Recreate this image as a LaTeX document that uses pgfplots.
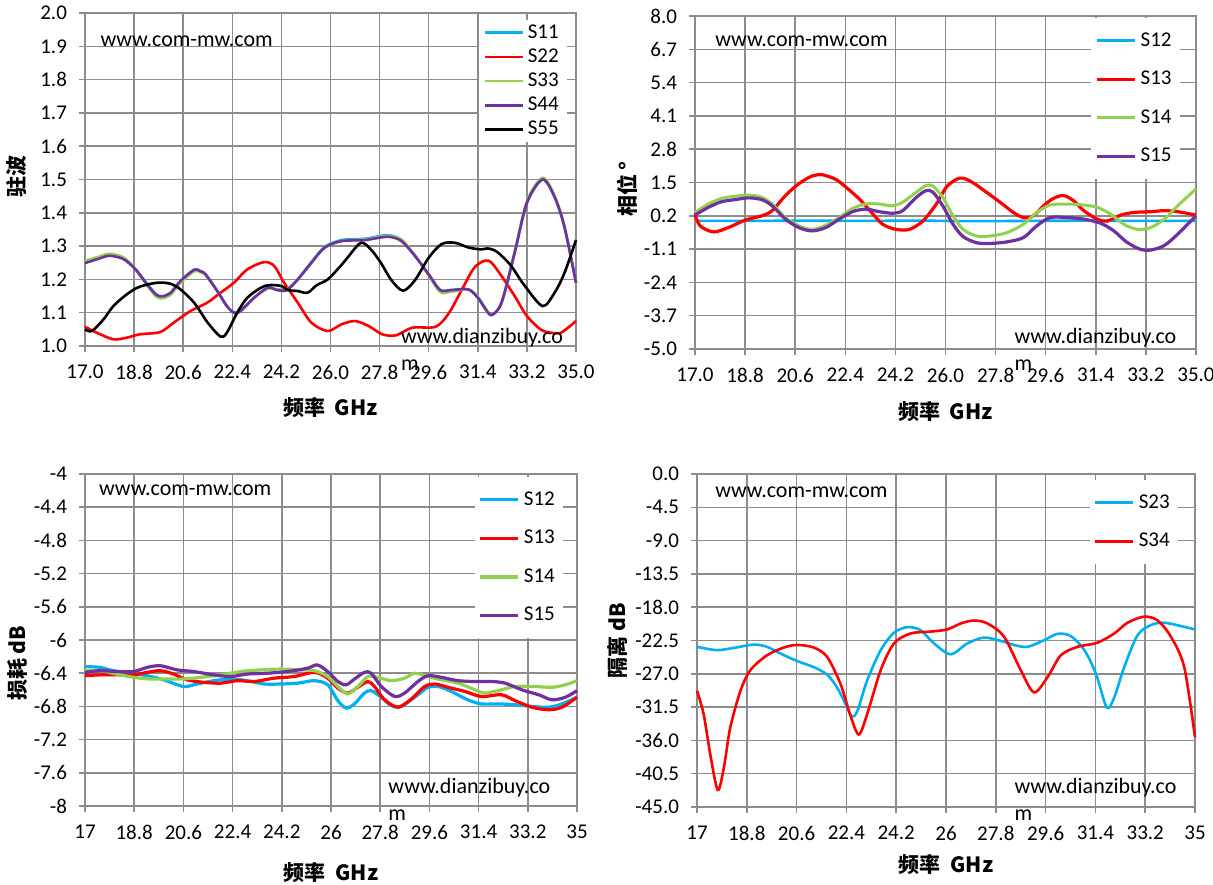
\documentclass[border=0pt]{standalone}
\usepackage{fontspec}
\setmainfont{Carlito}
\newfontfamily\cjk{Noto Sans CJK SC}
\usepackage{pgfplots}
\pgfplotsset{compat=1.18}
\definecolor{cS}{RGB}{0,176,240}
\definecolor{rS}{RGB}{255,0,0}
\definecolor{gS}{RGB}{146,208,80}
\definecolor{pS}{RGB}{112,48,160}
\definecolor{gridc}{RGB}{140,140,140}
\tikzset{wm/.style={anchor=west, font=\fontsize{11}{13}\selectfont, inner sep=0pt}}
\pgfplotsset{
  myaxis/.style={
    scale only axis, anchor=south west,
    xmin=17, xmax=35,
    xtick={17,18.8,20.6,22.4,24.2,26,27.8,29.6,31.4,33.2,35},
    grid=major, major grid style={gridc, line width=0.75pt},
    axis line style={gridc, line width=0.75pt},
    tick style={gridc, line width=0.75pt},
    tick align=outside, major tick length=3pt,
    xtick pos=bottom, ytick pos=left,
    ticklabel style={font=\fontsize{10.5}{12}\selectfont, text=black},
    xticklabel style={yshift=-3pt},
    yticklabel style={xshift=-2.5pt},
    clip=false, no markers,
    every axis plot/.append style={line width=1.3pt, smooth},
    legend cell align=left,
    legend image code/.code={\draw[##1] (0pt,0pt) -- (19pt,0pt);},
    legend style={draw=none, fill=white, anchor=north east, inner xsep=2pt, inner ysep=1pt,
      font=\fontsize{10.5}{12}\selectfont},
    xlabel style={anchor=center, font=\cjk\bfseries\fontsize{10.5}{12}\selectfont},
    ylabel style={anchor=center, font=\cjk\bfseries\fontsize{10.5}{12}\selectfont},
  },
}
\begin{document}
\begin{tikzpicture}
\path[use as bounding box] (0,0) rectangle (606.5pt,442pt);
% ---------------- Panel 1: VSWR
\begin{axis}[myaxis, at={(42.5pt,269pt)}, width=245.5pt, height=166.5pt,
  ymin=1, ymax=2, ytick={1,1.1,...,2.01},
  yticklabels={1.0,1.1,1.2,1.3,1.4,1.5,1.6,1.7,1.8,1.9,2.0},
  xticklabels={17.0,18.8,20.6,22.4,24.2,26.0,27.8,29.6,31.4,33.2,35.0},
  xlabel={频率\ \ GHz}, xlabel style={at={(axis description cs:0.5,-0.186)}},
  ylabel={驻波}, ylabel style={at={(axis description cs:-0.1385,0.51)}},
  legend style={at={(0.982,0.979)}, row sep=-0.2pt, inner ysep=0pt}]
\addplot[cS] coordinates {(17.0,1.25)(17.5,1.263)(17.9,1.272)(18.41,1.262)(18.84,1.232)(19.27,1.187)(19.6,1.155)(19.82,1.149)(20.13,1.159)(20.5,1.195)(21.0,1.229)(21.22,1.225)(21.42,1.215)(21.85,1.165)(22.2,1.12)(22.46,1.101)(22.7,1.105)(23.2,1.145)(23.7,1.175)(24.05,1.168)(24.4,1.168)(24.8,1.2)(25.3,1.252)(25.78,1.297)(26.4,1.318)(27.25,1.322)(28.1,1.333)(28.6,1.318)(29.1,1.27)(29.6,1.215)(30.02,1.168)(30.43,1.168)(31.05,1.17)(31.4,1.145)(31.65,1.115)(31.9,1.093)(32.27,1.13)(32.75,1.28)(33.2,1.43)(33.77,1.50)(34.2,1.45)(34.57,1.36)(35.0,1.19)};
\addlegendentry{S11}
\addplot[rS] coordinates {(17.0,1.058)(17.43,1.04)(18.04,1.02)(18.53,1.025)(19.0,1.035)(19.76,1.042)(20.25,1.07)(20.87,1.105)(21.48,1.13)(21.97,1.16)(22.46,1.19)(22.95,1.23)(23.57,1.252)(23.94,1.24)(24.3,1.19)(24.8,1.13)(25.3,1.07)(25.9,1.045)(26.4,1.065)(26.9,1.075)(27.4,1.06)(27.9,1.035)(28.4,1.032)(29.0,1.055)(29.86,1.058)(30.35,1.10)(30.84,1.173)(31.3,1.238)(31.8,1.256)(32.27,1.21)(32.75,1.15)(33.2,1.09)(33.7,1.05)(34.08,1.04)(34.45,1.04)(35.0,1.075)};
\addlegendentry{S22}
\addplot[gS] coordinates {(17.0,1.256)(17.5,1.268)(17.9,1.277)(18.41,1.266)(18.84,1.232)(19.27,1.182)(19.6,1.149)(19.82,1.143)(20.13,1.153)(20.5,1.19)(21.0,1.224)(21.22,1.222)(21.42,1.212)(21.85,1.165)(22.2,1.12)(22.46,1.1)(22.7,1.105)(23.2,1.145)(23.7,1.172)(24.05,1.17)(24.4,1.172)(24.8,1.2)(25.3,1.25)(25.78,1.295)(26.4,1.315)(27.25,1.32)(28.1,1.331)(28.6,1.32)(29.1,1.272)(29.6,1.212)(30.02,1.162)(30.43,1.163)(31.05,1.17)(31.4,1.148)(31.65,1.118)(31.9,1.093)(32.27,1.13)(32.75,1.28)(33.2,1.435)(33.77,1.505)(34.2,1.455)(34.57,1.36)(35.0,1.19)};
\addlegendentry{S33}
\addplot[pS] coordinates {(17.0,1.249)(17.5,1.262)(17.9,1.271)(18.41,1.261)(18.84,1.231)(19.27,1.186)(19.6,1.155)(19.82,1.149)(20.13,1.159)(20.5,1.195)(21.0,1.229)(21.22,1.225)(21.42,1.215)(21.85,1.165)(22.2,1.12)(22.46,1.1)(22.7,1.105)(23.2,1.145)(23.7,1.175)(24.05,1.168)(24.4,1.168)(24.8,1.2)(25.3,1.25)(25.78,1.295)(26.4,1.315)(27.25,1.318)(28.1,1.328)(28.6,1.315)(29.1,1.27)(29.6,1.215)(30.02,1.168)(30.43,1.168)(31.05,1.17)(31.4,1.145)(31.65,1.115)(31.9,1.093)(32.27,1.13)(32.75,1.28)(33.2,1.43)(33.77,1.50)(34.2,1.45)(34.57,1.36)(35.0,1.19)};
\addlegendentry{S44}
\addplot[black] coordinates {(17.0,1.05)(17.25,1.045)(17.68,1.08)(18.04,1.12)(18.53,1.155)(19.0,1.178)(19.65,1.19)(20.13,1.187)(20.5,1.17)(21.0,1.13)(21.5,1.07)(21.97,1.028)(22.2,1.04)(22.58,1.10)(22.95,1.145)(23.45,1.175)(23.76,1.183)(24.2,1.18)(24.45,1.168)(24.8,1.165)(25.16,1.16)(25.5,1.183)(25.9,1.20)(26.4,1.243)(26.63,1.266)(27.12,1.31)(27.5,1.288)(27.86,1.248)(28.23,1.198)(28.66,1.166)(29.1,1.198)(29.6,1.265)(30.07,1.306)(30.56,1.31)(31.05,1.296)(31.52,1.29)(31.76,1.293)(32.1,1.283)(32.6,1.243)(33.1,1.183)(33.77,1.12)(34.2,1.158)(34.57,1.218)(35.0,1.318)};
\addlegendentry{S55}
\node[wm] at (rel axis cs:0.031,0.916) {www.com-mw.com};
\node[wm] at (rel axis cs:0.643,0.024) {www.dianzibuy.co};
\node[wm, yshift=-13.5pt] at (rel axis cs:0.643,0.024) {m};
\end{axis}
% ---------------- Panel 2: Phase
\begin{axis}[myaxis, at={(347.5pt,267.5pt)}, width=250.5pt, height=166.5pt,
  ymin=-5, ymax=8, ytick={-5,-3.7,-2.4,-1.1,0.2,1.5,2.8,4.1,5.4,6.7,8},
  yticklabels={-5.0,-3.7,-2.4,-1.1,0.2,1.5,2.8,4.1,5.4,6.7,8.0},
  xticklabels={17.0,18.8,20.6,22.4,24.2,26.0,27.8,29.6,31.4,33.2,35.0},
  xlabel={频率\ \ GHz}, xlabel style={at={(axis description cs:0.5,-0.189)}},
  ylabel={相位 °}, ylabel style={at={(axis description cs:-0.1357,0.48)}},
  legend style={at={(0.968,0.994)}, row sep=7pt, inner ysep=5pt}]
\addplot[cS] coordinates {(17,0.0)(19,0.0)(21,0.01)(23,0.0)(25,0.01)(27,-0.01)(29,0.0)(31,0.01)(33,0.0)(35,0.0)};
\addlegendentry{S12}
\addplot[rS, line width=1.6pt] coordinates {(17.0,0.27)(17.18,-0.19)(17.66,-0.43)(18.2,-0.26)(18.8,0.03)(19.4,0.2)(19.77,0.40)(20.25,0.99)(20.73,1.45)(21.2,1.75)(21.58,1.80)(22.06,1.62)(22.42,1.32)(22.9,0.86)(23.32,0.36)(23.74,-0.13)(24.22,-0.33)(24.7,-0.33)(25.19,0.0)(25.67,0.66)(26.03,1.32)(26.39,1.62)(26.63,1.67)(26.99,1.49)(27.47,1.12)(27.96,0.73)(28.44,0.33)(28.8,0.13)(29.16,0.2)(29.52,0.59)(29.88,0.88)(30.24,0.99)(30.6,0.79)(30.97,0.40)(31.45,0.07)(31.8,-0.01)(32.3,0.23)(32.77,0.33)(33.37,0.36)(33.86,0.40)(34.34,0.36)(35.0,0.23)};
\addlegendentry{S13}
\addplot[gS, line width=1.5pt] coordinates {(17.0,0.33)(17.48,0.66)(17.96,0.88)(18.44,0.96)(18.93,1.01)(19.4,0.92)(19.77,0.66)(20.25,0.13)(20.73,-0.19)(21.2,-0.33)(21.7,-0.17)(22.18,0.13)(22.66,0.49)(23.14,0.66)(23.62,0.66)(24.1,0.59)(24.46,0.73)(24.95,1.12)(25.3,1.38)(25.55,1.36)(25.9,0.92)(26.27,0.2)(26.63,-0.33)(27.11,-0.59)(27.6,-0.59)(28.2,-0.46)(28.8,-0.13)(29.28,0.33)(29.76,0.62)(30.36,0.66)(30.97,0.62)(31.45,0.53)(31.93,0.27)(32.4,-0.13)(32.9,-0.33)(33.37,-0.26)(33.86,0.07)(34.34,0.59)(35.0,1.25)};
\addlegendentry{S14}
\addplot[pS, line width=1.6pt] coordinates {(17.0,0.23)(17.48,0.53)(17.96,0.75)(18.44,0.83)(18.93,0.9)(19.4,0.83)(19.77,0.59)(20.25,0.07)(20.73,-0.26)(21.2,-0.39)(21.7,-0.26)(22.18,0.07)(22.66,0.36)(23.14,0.46)(23.62,0.36)(24.1,0.3)(24.46,0.40)(24.95,0.92)(25.3,1.18)(25.55,1.12)(25.9,0.59)(26.27,-0.13)(26.63,-0.61)(27.11,-0.85)(27.6,-0.88)(28.2,-0.82)(28.8,-0.65)(29.28,-0.19)(29.76,0.13)(30.36,0.13)(30.97,0.07)(31.57,-0.09)(32.05,-0.39)(32.5,-0.82)(33.0,-1.11)(33.37,-1.14)(33.86,-0.96)(34.34,-0.52)(35.0,0.2)};
\addlegendentry{S15}
\node[wm] at (rel axis cs:0.04,0.923) {www.com-mw.com};
\node[wm] at (rel axis cs:0.637,0.033) {www.dianzibuy.co};
\node[wm, yshift=-13.5pt] at (rel axis cs:0.637,0.033) {m};
\end{axis}
% ---------------- Panel 3: Loss
\begin{axis}[myaxis, at={(42.5pt,39pt)}, width=246pt, height=166pt,
  ymin=-8, ymax=-4, ytick={-8,-7.6,-7.2,-6.8,-6.4,-6,-5.6,-5.2,-4.8,-4.4,-4},
  yticklabels={-8,-7.6,-7.2,-6.8,-6.4,-6,-5.6,-5.2,-4.8,-4.4,-4},
  xticklabels={17,18.8,20.6,22.4,24.2,26,27.8,29.6,31.4,33.2,35},
  xlabel={频率\ \ GHz}, xlabel style={at={(axis description cs:0.5,-0.199)}},
  ylabel={损耗 dB}, ylabel style={at={(axis description cs:-0.138,0.43)}},
  legend style={at={(0.972,0.991)}, row sep=7pt, inner ysep=5pt}]
\addplot[cS, line width=1.6pt] coordinates {(17.0,-6.32)(17.55,-6.33)(18.04,-6.37)(18.65,-6.40)(19.27,-6.43)(19.88,-6.48)(20.6,-6.56)(21.1,-6.53)(21.71,-6.49)(22.33,-6.47)(22.94,-6.49)(23.55,-6.53)(24.16,-6.53)(24.78,-6.52)(25.39,-6.49)(25.88,-6.54)(26.25,-6.73)(26.55,-6.82)(26.86,-6.77)(27.22,-6.64)(27.47,-6.61)(27.84,-6.69)(28.2,-6.79)(28.57,-6.80)(29.06,-6.69)(29.55,-6.57)(29.92,-6.56)(30.4,-6.62)(31.0,-6.72)(31.5,-6.77)(32.12,-6.77)(32.73,-6.78)(33.35,-6.80)(33.96,-6.81)(34.45,-6.77)(35.0,-6.69)};
\addlegendentry{S12}
\addplot[rS, line width=1.6pt] coordinates {(17.0,-6.43)(17.55,-6.42)(18.16,-6.42)(18.78,-6.42)(19.27,-6.39)(19.76,-6.37)(20.24,-6.41)(20.73,-6.48)(21.35,-6.51)(21.96,-6.52)(22.57,-6.49)(23.18,-6.50)(23.92,-6.46)(24.65,-6.44)(25.39,-6.39)(25.88,-6.46)(26.25,-6.58)(26.61,-6.64)(26.98,-6.57)(27.35,-6.50)(27.59,-6.56)(27.96,-6.72)(28.45,-6.81)(28.94,-6.71)(29.43,-6.56)(29.8,-6.53)(30.28,-6.57)(30.9,-6.62)(31.5,-6.68)(32.24,-6.66)(32.73,-6.73)(33.35,-6.81)(33.96,-6.84)(34.45,-6.81)(35.0,-6.69)};
\addlegendentry{S13}
\addplot[gS, line width=1.6pt] coordinates {(17.0,-6.37)(17.55,-6.37)(18.16,-6.41)(18.78,-6.45)(19.39,-6.47)(20.0,-6.47)(20.6,-6.47)(21.22,-6.45)(21.96,-6.42)(22.69,-6.38)(23.43,-6.36)(24.16,-6.35)(24.78,-6.36)(25.39,-6.37)(25.88,-6.44)(26.25,-6.56)(26.61,-6.65)(26.98,-6.56)(27.35,-6.44)(27.71,-6.45)(28.2,-6.49)(28.69,-6.46)(29.06,-6.40)(29.55,-6.44)(30.04,-6.48)(30.65,-6.52)(31.27,-6.60)(31.63,-6.64)(32.24,-6.60)(32.73,-6.56)(33.47,-6.56)(34.08,-6.57)(34.57,-6.54)(35.0,-6.49)};
\addlegendentry{S14}
\addplot[pS, line width=1.6pt] coordinates {(17.0,-6.39)(17.55,-6.37)(18.16,-6.38)(18.78,-6.38)(19.27,-6.33)(19.76,-6.31)(20.37,-6.36)(20.98,-6.38)(21.71,-6.42)(22.33,-6.44)(22.94,-6.41)(23.67,-6.40)(24.4,-6.38)(25.14,-6.34)(25.5,-6.30)(25.88,-6.38)(26.25,-6.50)(26.55,-6.54)(26.86,-6.47)(27.22,-6.39)(27.47,-6.40)(27.84,-6.56)(28.33,-6.68)(28.69,-6.64)(29.18,-6.50)(29.55,-6.43)(30.04,-6.45)(30.65,-6.49)(31.27,-6.50)(31.88,-6.50)(32.37,-6.52)(32.98,-6.60)(33.6,-6.66)(34.08,-6.72)(34.57,-6.69)(35.0,-6.61)};
\addlegendentry{S15}
\node[wm] at (rel axis cs:0.028,0.952) {www.com-mw.com};
\node[wm] at (rel axis cs:0.616,0.054) {www.dianzibuy.co};
\node[wm, yshift=-13.5pt] at (rel axis cs:0.616,0.054) {m};
\end{axis}
% ---------------- Panel 4: Isolation
\begin{axis}[myaxis, at={(348.5pt,38.5pt)}, width=249pt, height=166.5pt,
  ymin=-45, ymax=0, ytick={-45,-40.5,-36,-31.5,-27,-22.5,-18,-13.5,-9,-4.5,0},
  yticklabels={-45.0,-40.5,-36.0,-31.5,-27.0,-22.5,-18.0,-13.5,-9.0,-4.5,0.0},
  xticklabels={17,18.8,20.6,22.4,24.2,26,27.8,29.6,31.4,33.2,35},
  xlabel={频率\ \ GHz}, xlabel style={at={(axis description cs:0.5,-0.174)}},
  ylabel={隔离 dB}, ylabel style={at={(axis description cs:-0.159,0.5)}},
  legend style={at={(0.966,0.982)}, row sep=7pt, inner ysep=5pt}]
\addplot[cS] coordinates {(17.0,-23.36)(17.72,-23.8)(18.33,-23.5)(19.05,-23.05)(19.53,-23.36)(20.02,-24.27)(20.62,-25.27)(21.22,-26.1)(21.7,-27.1)(22.07,-28.9)(22.43,-31.55)(22.6,-32.8)(22.8,-32.0)(23.15,-27.9)(23.64,-23.8)(24.12,-21.45)(24.6,-20.7)(25.08,-21.1)(25.57,-22.9)(26.17,-24.36)(26.77,-22.9)(27.37,-22.1)(27.98,-22.55)(28.46,-23.1)(28.94,-23.36)(29.55,-22.45)(30.03,-21.6)(30.51,-21.9)(31.0,-23.8)(31.42,-27.0)(31.81,-31.55)(32.08,-30.2)(32.44,-26.1)(32.92,-21.8)(33.41,-20.4)(33.89,-20.1)(34.49,-20.55)(35.0,-21.0)};
\addlegendentry{S23}
\addplot[rS] coordinates {(17.0,-29.3)(17.24,-32.45)(17.48,-37.9)(17.75,-42.7)(17.97,-39.7)(18.2,-34.3)(18.57,-29.3)(18.93,-26.5)(19.53,-24.5)(20.14,-23.45)(20.62,-23.1)(21.22,-23.45)(21.7,-24.7)(22.19,-28.4)(22.55,-32.7)(22.85,-35.2)(23.15,-32.45)(23.64,-26.5)(24.12,-22.9)(24.72,-21.55)(25.44,-21.3)(26.05,-21.0)(26.53,-20.2)(27.01,-19.8)(27.5,-20.2)(28.1,-22.0)(28.7,-26.5)(29.18,-29.5)(29.67,-27.45)(30.15,-24.5)(30.75,-23.36)(31.47,-22.8)(32.08,-21.55)(32.56,-20.1)(33.16,-19.27)(33.65,-19.8)(34.13,-22.0)(34.61,-26.1)(35.0,-35.6)};
\addlegendentry{S34}
\node[wm] at (rel axis cs:0.036,0.946) {www.com-mw.com};
\node[wm] at (rel axis cs:0.637,0.057) {www.dianzibuy.co};
\node[wm, yshift=-13.5pt] at (rel axis cs:0.637,0.057) {m};
\end{axis}
\end{tikzpicture}
\end{document}
